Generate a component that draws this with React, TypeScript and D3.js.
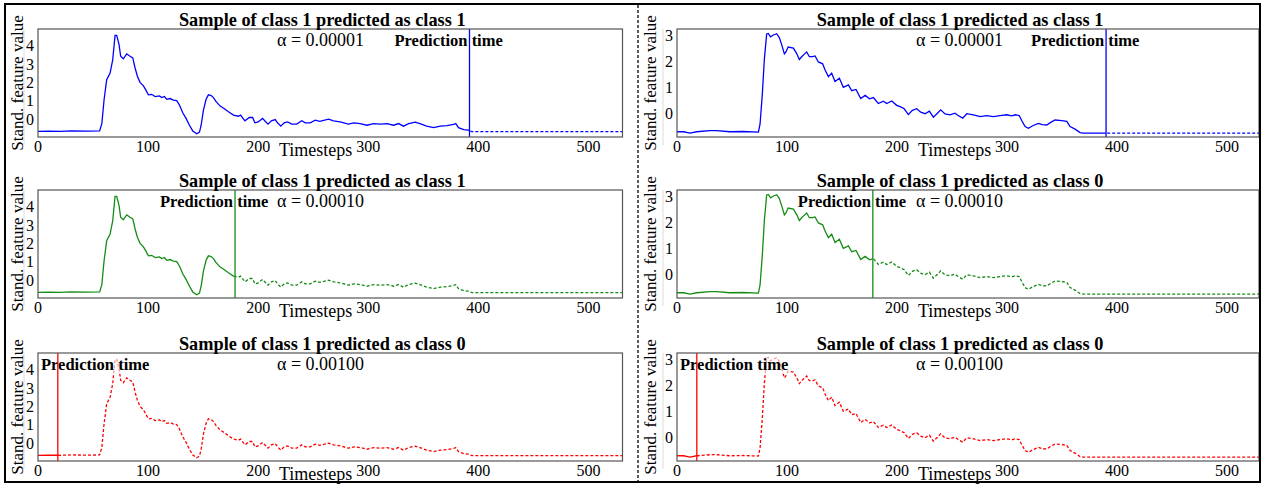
import React, { useEffect } from 'react';
import * as d3 from 'd3';

// left column sample (timestep, standardized value)
const leftT = [0, 10, 20, 30, 45, 56, 58, 60, 62.4, 65.5, 67.9, 70, 71.5, 73.6, 75.1, 77.5, 80.6, 83.6, 86.1, 88.2, 90.3, 92.7, 95.8, 97.9, 100.3, 103.3, 106.4, 110.3, 112.4, 114.8, 117, 120, 123, 126, 128.5, 131.5, 134.5, 137.6, 140.6, 144.2, 146.7, 148.2, 150.3, 152.7, 154.8, 157.3, 159.4, 161.8, 165.5, 169, 173, 177.6, 182, 184, 188, 192, 195, 197, 200, 204, 206, 209, 212, 215.5, 217.6, 220.6, 223.6, 226.7, 230.6, 235, 239.7, 242.7, 247.3, 251.8, 256, 264, 268.5, 274.5, 282, 287, 292.7, 298.8, 305, 311, 317, 323, 327.6, 332, 336.7, 342.7, 347, 353, 359.4, 365.5, 371.5, 377.5, 379.5, 382, 386.7, 391, 394.2, 531];
const leftV = [-0.66, -0.65, -0.66, -0.64, -0.65, -0.64, -0.24, 1.04, 2.14, 2.5, 3.24, 4.55, 4.55, 4.06, 3.42, 3.28, 3.55, 3.42, 3.33, 2.78, 2.33, 2.0, 1.81, 1.59, 1.32, 1.35, 1.23, 1.26, 1.17, 1.23, 1.08, 1.12, 1.04, 1.01, 0.77, 0.35, 0.04, -0.33, -0.64, -0.79, -0.7, -0.33, 0.49, 1.08, 1.32, 1.28, 1.17, 0.95, 0.71, 0.58, 0.4, 0.22, 0.16, 0.22, -0.09, 0.09, 0.09, -0.2, -0.15, 0.04, -0.09, -0.27, -0.09, -0.02, -0.2, -0.38, -0.2, -0.15, -0.27, -0.27, -0.09, -0.2, -0.2, -0.05, -0.12, 0.0, -0.09, -0.15, -0.27, -0.2, -0.24, -0.33, -0.24, -0.27, -0.24, -0.33, -0.24, -0.38, -0.24, -0.16, -0.24, -0.38, -0.46, -0.38, -0.35, -0.29, -0.24, -0.46, -0.57, -0.6, -0.68, -0.68];

// right column sample
const rightT = [0, 6, 11.8, 17.9, 30, 36, 48, 60, 74, 75.5, 77.6, 79.4, 81.5, 83, 85, 87.6, 90.6, 93, 95, 97.6, 99, 101, 105.8, 108.8, 111.2, 113.3, 115.5, 117.9, 120.3, 123.3, 125.5, 128.5, 132.4, 134.5, 137.6, 140.6, 143.6, 147.6, 151.2, 155.8, 158.8, 162.7, 167, 171, 175, 178.5, 183, 187.5, 190.6, 195.2, 199.7, 203.3, 206.5, 210.3, 214, 217.9, 221.5, 225.5, 229.4, 233, 236.7, 239.7, 243.6, 248.2, 252.7, 255.5, 259.7, 263.4, 269.4, 275.5, 281.5, 287.6, 293.6, 299.7, 304.3, 307.5, 311, 313.3, 316.4, 319.4, 323.3, 328.5, 332, 336, 339.7, 343.6, 349.7, 354.3, 357.3, 361.8, 366.4, 369.4, 529];
const rightV = [-0.7, -0.7, -0.75, -0.7, -0.66, -0.66, -0.7, -0.69, -0.71, -0.4, 0.77, 2.07, 3.04, 3.06, 2.93, 3.0, 3.05, 2.9, 2.65, 2.28, 2.35, 2.54, 2.5, 2.29, 2.06, 2.17, 2.26, 2.35, 2.17, 2.17, 2.2, 1.97, 1.9, 1.67, 1.41, 1.54, 1.22, 1.35, 1.0, 1.09, 0.87, 0.92, 0.57, 0.69, 0.56, 0.61, 0.38, 0.47, 0.38, 0.48, 0.31, 0.25, 0.18, -0.04, 0.12, 0.18, 0.05, -0.01, 0.09, -0.14, 0.01, 0.14, -0.02, -0.05, 0.01, -0.08, -0.18, -0.01, -0.05, -0.12, -0.08, -0.12, -0.08, -0.05, -0.09, -0.05, -0.08, -0.27, -0.5, -0.57, -0.47, -0.38, -0.43, -0.44, -0.34, -0.25, -0.27, -0.3, -0.5, -0.6, -0.73, -0.75, -0.75];

const titlesLeft = ['Sample of class 1 predicted as class 1', 'Sample of class 1 predicted as class 1', 'Sample of class 1 predicted as class 0'];
const titlesRight = ['Sample of class 1 predicted as class 1', 'Sample of class 1 predicted as class 0', 'Sample of class 1 predicted as class 0'];
const alphaLabels = ['α = 0.00001', 'α = 0.00010', 'α = 0.00100'];
const predLeft = [392, 179, 18];
const predRight = [390, 178, 18];
const xTicks = [0, 100, 200, 300, 400, 500];
const yTicksLeft = [0, 1, 2, 3, 4];
const yTicksRight = [0, 1, 2, 3];
const rowColors = ['#0000ff', '#168c16', '#ff0000'];

const FONT = '"Liberation Serif", "Times New Roman", Times, serif';
const rowTops = [29, 190, 353];
const frameH = 108;

function Panel({ id, x0, x1, y0, ts, vs, xMax, yDom, yTicks, title, alpha, pred, color, ylabX }) {
  const y1 = y0 + frameH;
  const x = d3.scaleLinear().domain([0, xMax]).range([x0, x1]);
  const y = d3.scaleLinear().domain(yDom).range([y1, y0]);
  const pts = ts.map((t, i) => [t, vs[i]]);
  const line = d3.line().x((d) => x(d[0])).y((d) => y(d[1]));
  const d = line(pts);
  const px = x(pred);
  const labelX = Math.max(px - 75, x0 + 3);
  return (
    <g>
      <defs>
        <clipPath id={id + 'a'}><rect x={x0} y={y0} width={px - x0} height={frameH} /></clipPath>
        <clipPath id={id + 'b'}><rect x={px} y={y0} width={x1 - px} height={frameH} /></clipPath>
      </defs>
      <line x1={x0 - 14} x2={x0 - 14} y1={y0} y2={y1 + 8} stroke="#dcdcdc" />
      <path d={d} fill="none" stroke={color} strokeWidth={1.3} clipPath={`url(#${id}a)`} />
      <path d={d} fill="none" stroke={color} strokeWidth={1.3} strokeDasharray="3,2" clipPath={`url(#${id}b)`} />
      <rect x={labelX - 1} y={y0 + 4} width={112} height={17} fill="white" opacity={0.6} />
      <text x={labelX} y={y0 + 17} fontFamily={FONT} fontSize={16.5} fontWeight="bold">Prediction time</text>
      <text x={x0 + 239} y={y0 + 17} fontFamily={FONT} fontSize={18}>{alpha}</text>
      <line x1={px} x2={px} y1={y0} y2={y1} stroke={color} strokeWidth={1.3} />
      <rect x={x0} y={y0} width={x1 - x0} height={frameH} fill="none" stroke="#555" strokeWidth={1.2} />
      <text x={(x0 + x1) / 2 - 8} y={y0 - 3} textAnchor="middle" fontFamily={FONT} fontSize={18.3} fontWeight="bold">{title}</text>
      {xTicks.map((t) => (
        <text key={t} x={x(t)} y={y1 + 15} textAnchor="middle" fontFamily={FONT} fontSize={16}>{t}</text>
      ))}
      {yTicks.map((t) => (
        <text key={t} x={x0 - 4} y={y(t)} dy="0.35em" textAnchor="end" fontFamily={FONT} fontSize={16}>{t}</text>
      ))}
      <text x={x0 + 241} y={y1 + 19} fontFamily={FONT} fontSize={18}>Timesteps</text>
      <text transform={`translate(${ylabX},${(y0 + y1) / 2}) rotate(-90)`} dy="0.35em" textAnchor="middle" fontFamily={FONT} fontSize={17}>Stand. feature value</text>
    </g>
  );
}

export default function App() {
  useEffect(() => {
    document.body.style.margin = '0';
  }, []);
  return (
    <svg width={1263} height={486} style={{ position: 'absolute', left: 0, top: 0, background: 'white' }}>
      <rect x={0} y={0} width={1263} height={486} fill="white" />
      {rowTops.map((top, i) => (
        <Panel key={'l' + i} id={'l' + i} x0={38} x1={622.5} y0={top} ts={leftT} vs={leftV} xMax={531}
          yDom={[-0.97, 4.9]} yTicks={yTicksLeft} title={titlesLeft[i]} alpha={alphaLabels[i]}
          pred={predLeft[i]} color={rowColors[i]} ylabX={17} />
      ))}
      {rowTops.map((top, i) => (
        <Panel key={'r' + i} id={'r' + i} x0={677} x1={1259} y0={top} ts={rightT} vs={rightV} xMax={529}
          yDom={[-0.9, 3.23]} yTicks={yTicksRight} title={titlesRight[i]} alpha={alphaLabels[i]}
          pred={predRight[i]} color={rowColors[i]} ylabX={650} />
      ))}
      <line x1={638} x2={638} y1={5} y2={481} stroke="black" strokeWidth={1.3} strokeDasharray="3,2" />
      <rect x={5} y={4} width={1255} height={478} fill="none" stroke="black" strokeWidth={2} />
    </svg>
  );
}
